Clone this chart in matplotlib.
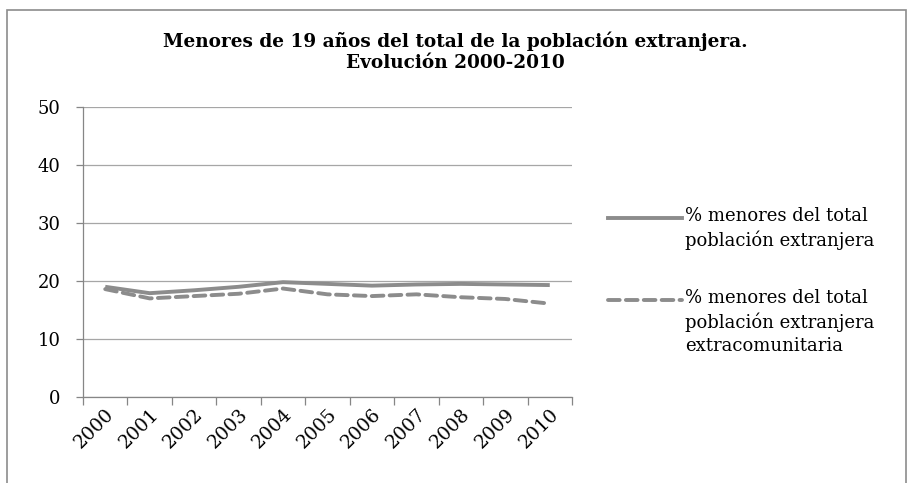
import matplotlib
matplotlib.use("Agg")
import matplotlib.pyplot as plt
from matplotlib.lines import Line2D
from matplotlib.patches import Rectangle
import numpy as np

years = ["2000", "2001", "2002", "2003", "2004", "2005", "2006", "2007", "2008", "2009", "2010"]
total = [19.0, 17.9, 18.4, 19.0, 19.8, 19.5, 19.2, 19.4, 19.5, 19.4, 19.3]
extracom = [18.6, 17.0, 17.4, 17.8, 18.7, 17.7, 17.4, 17.7, 17.2, 16.9, 16.1]
label_total = "% menores del total\npoblación extranjera"
label_extra = "% menores del total\npoblación extranjera\nextracomunitaria"
title = "Menores de 19 años del total de la población extranjera.\nEvolución 2000-2010"

plt.rcParams['font.family'] = ['DejaVu Serif', 'Liberation Serif']
W, H = 913, 483
fig = plt.figure(figsize=(W/100, H/100), dpi=100)
fig.patch.set_facecolor('white')

ax = fig.add_axes([83/W, 1-397/H, (572-83)/W, (397-107)/H])
x = np.arange(len(years))
col = '#8c8c8c'
dash = (0, (3, 1.6))
ax.plot(x, total, color=col, lw=2.8, solid_capstyle='butt')
ax.plot(x, extracom, color=col, lw=2.8, ls=dash, dash_capstyle='round')

ax.set_xlim(-0.5, len(years)-0.5)
ax.set_ylim(0, 50)
ax.set_yticks(range(0, 51, 10))
ax.yaxis.grid(True, color='#a6a6a6', lw=0.9)
ax.set_axisbelow(True)
ax.set_xticks(x)
ax.set_xticklabels(years, rotation=45, ha='right', va='top', rotation_mode='anchor', fontsize=13.5)
ax.set_xticks(np.arange(-0.5, len(years), 1), minor=True)
ax.tick_params(axis='x', which='major', length=0, pad=6)
ax.tick_params(axis='x', which='minor', length=6, color='#868686', width=0.9)
ax.tick_params(axis='y', length=5, color='#868686', width=0.9, labelsize=13, pad=11, direction='out')
for s in ['top', 'right']:
    ax.spines[s].set_visible(False)
for s in ['left', 'bottom']:
    ax.spines[s].set_color('#868686')
    ax.spines[s].set_linewidth(0.9)

fig.text(455/W, 1-52/H, title, ha='center', va='center', fontsize=13.3, fontweight='bold', linespacing=1.25)

# legend
fig.add_artist(Line2D([608/W, 682/W], [1-218/H, 1-218/H], color=col, lw=2.8))
fig.text(685/W, 1-207/H, label_total, ha='left', va='top', fontsize=13, linespacing=1.36)
fig.add_artist(Line2D([608/W, 682/W], [1-300/H, 1-300/H], color=col, lw=2.8, ls=dash, dash_capstyle='round'))
fig.text(685/W, 1-289/H, label_extra, ha='left', va='top', fontsize=13, linespacing=1.36)

fig.add_artist(Rectangle((7/W, -0.05), (906-7)/W, 1-10/H+0.05, transform=fig.transFigure,
                         fill=False, edgecolor='#8c8c8c', lw=1.2))

fig.savefig('out.png', dpi=100)
